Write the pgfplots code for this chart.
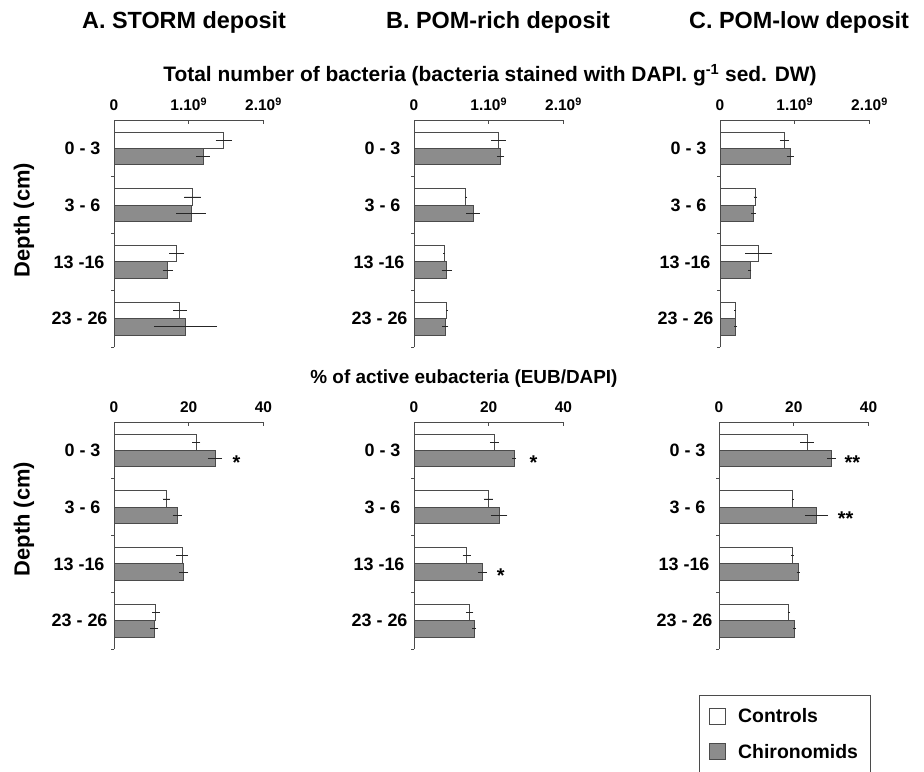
\documentclass[border=0pt]{standalone}
\usepackage{pgfplots}
\usepackage{pgfplotstable}
\pgfplotsset{compat=1.18}
\usepackage{fontspec}
\setmainfont{Liberation Sans}

\definecolor{barfill}{RGB}{140,140,140}
\definecolor{edge}{RGB}{75,75,75}

% y: 3 = 0-3 cm, 2 = 3-6, 1 = 13-16, 0 = 23-26
\pgfplotstableread{
y ctl    ectl    chi    echi
3 1.47e9 0.11e9  1.19e9 0.09e9
2 1.05e9 0.11e9  1.03e9 0.20e9
1 0.84e9 0.10e9  0.72e9 0.07e9
0 0.88e9 0.09e9  0.96e9 0.42e9
}\dataAtop
\pgfplotstableread{
y ctl    ectl    chi    echi
3 1.13e9 0.10e9  1.16e9 0.05e9
2 0.69e9 0.01e9  0.79e9 0.09e9
1 0.40e9 0.01e9  0.44e9 0.07e9
0 0.44e9 0.01e9  0.42e9 0.04e9
}\dataBtop
\pgfplotstableread{
y ctl    ectl    chi    echi
3 0.86e9 0.06e9  0.94e9 0.05e9
2 0.47e9 0.02e9  0.45e9 0.03e9
1 0.52e9 0.18e9  0.40e9 0.02e9
0 0.20e9 0.01e9  0.21e9 0.02e9
}\dataCtop
\pgfplotstableread{
y ctl  ectl chi  echi
3 22.0 1.1  27.0 1.9
2 14.0 1.0  16.9 1.2
1 18.2 1.6  18.7 1.2
0 11.2 1.0  10.8 1.1
}\dataAbot
\pgfplotstableread{
y ctl  ectl chi  echi
3 21.5 1.2  26.8 0.5
2 19.9 1.2  22.8 2.2
1 14.1 1.1  18.3 1.2
0 14.9 1.0  16.1 0.5
}\dataBbot
\pgfplotstableread{
y ctl  ectl chi  echi
3 23.6 1.8  30.1 1.1
2 19.7 0.1  26.1 3.1
1 19.6 0.4  21.2 0.4
0 18.7 0.3  20.2 0.4
}\dataCbot

\pgfplotsset{
  panel/.style={
    scale only axis, width=149.5bp, height=227bp,
    xbar, bar width=16.3bp,
    ymin=-0.5, ymax=3.5, xmin=0,
    axis x line*=top, axis y line*=left,
    axis line style={edge, line width=0.8bp},
    ytick={0,1,2,3},
    yticklabels={23 - 26,13 -16\kern3bp,3 - 6\kern7bp,0 - 3\kern7bp},
    minor ytick={-0.5,0.5,1.5,2.5},
    major y tick style={draw=none},
    tick align=inside,
    major tick length=4bp, minor tick length=3bp,
    minor y tick style={xshift=-3bp, edge, line width=0.8bp},
    major x tick style={edge, line width=0.8bp},
    scaled x ticks=false,
    xticklabel shift=6bp,
    xticklabel style={font=\bfseries\fontsize{15.5}{15.5}\selectfont},
    yticklabel style={font=\bfseries\fontsize{18}{18}\selectfont, xshift=-3bp},
    clip=false,
  },
  errs/.style={error bars/.cd, x dir=both, x explicit, error mark=none,
    error bar style={line width=0.9bp, black!85}, /pgfplots/.cd},
  ctl/.style={fill=white, draw=edge, line width=0.8bp, bar shift=8.15bp, errs},
  chi/.style={fill=barfill, draw=edge, line width=0.8bp, bar shift=-8.15bp, errs},
  toprow/.style={panel, xmax=2e9, xtick={0,1e9,2e9},
    xticklabels={0,1.10\textsuperscript{9},2.10\textsuperscript{9}}},
  botrow/.style={panel, xmax=40, xtick={0,20,40}, xticklabels={0,20,40}},
}

\begin{document}
\begin{tikzpicture}
\path[use as bounding box] (0bp,0bp) rectangle (924bp,-772bp);

% column titles
\node[font=\bfseries\fontsize{23.5}{23.5}\selectfont] at (184bp,-22bp) {A. STORM deposit};
\node[font=\bfseries\fontsize{23.5}{23.5}\selectfont] at (498bp,-22bp) {B. POM-rich deposit};
\node[font=\bfseries\fontsize{23.5}{23.5}\selectfont] at (799bp,-22bp) {C. POM-low deposit};
\node[font=\bfseries\fontsize{21}{21}\selectfont] at (490bp,-75bp)
  {Total number of bacteria (bacteria stained with DAPI. g\textsuperscript{-1} sed. DW)};
\node[font=\bfseries\fontsize{19}{19}\selectfont] at (464bp,-379bp)
  {\% of active eubacteria (EUB/DAPI)};
\node[font=\bfseries\fontsize{22}{22}\selectfont, rotate=90] at (24bp,-220bp) {Depth (cm)};
\node[font=\bfseries\fontsize{22}{22}\selectfont, rotate=90] at (24bp,-519bp) {Depth (cm)};

% top row
\begin{axis}[toprow, at={(114bp,-120bp)}, anchor=north west]
\addplot[ctl] table[x=ctl, y=y, x error=ectl] {\dataAtop};
\addplot[chi] table[x=chi, y=y, x error=echi] {\dataAtop};
\end{axis}
\begin{axis}[toprow, at={(414bp,-120bp)}, anchor=north west]
\addplot[ctl] table[x=ctl, y=y, x error=ectl] {\dataBtop};
\addplot[chi] table[x=chi, y=y, x error=echi] {\dataBtop};
\end{axis}
\begin{axis}[toprow, at={(720bp,-120bp)}, anchor=north west]
\addplot[ctl] table[x=ctl, y=y, x error=ectl] {\dataCtop};
\addplot[chi] table[x=chi, y=y, x error=echi] {\dataCtop};
\end{axis}

% bottom row
\begin{axis}[botrow, at={(114bp,-422bp)}, anchor=north west]
\addplot[ctl] table[x=ctl, y=y, x error=ectl] {\dataAbot};
\addplot[chi] table[x=chi, y=y, x error=echi] {\dataAbot};
\node[font=\bfseries\fontsize{20}{20}\selectfont, yshift=-12bp] at (axis cs:32.8,3) {*};
\end{axis}
\begin{axis}[botrow, at={(414bp,-422bp)}, anchor=north west]
\addplot[ctl] table[x=ctl, y=y, x error=ectl] {\dataBbot};
\addplot[chi] table[x=chi, y=y, x error=echi] {\dataBbot};
\node[font=\bfseries\fontsize{20}{20}\selectfont, yshift=-12bp] at (axis cs:32,3) {*};
\node[font=\bfseries\fontsize{20}{20}\selectfont, yshift=-12bp] at (axis cs:23.2,1) {*};
\end{axis}
\begin{axis}[botrow, at={(719bp,-422bp)}, anchor=north west,
  legend style={at={(axis description cs:-0.134,-0.2026)}, anchor=north west,
    draw=edge, line width=0.8bp, font=\bfseries\fontsize{19.5}{19.5}\selectfont,
    row sep=16bp, inner xsep=10bp, inner ysep=11bp,
    /tikz/every odd column/.append style={column sep=10bp}},
  legend cell align=left]
\addplot[ctl, legend image code/.code={\draw[fill=white, draw=edge, line width=0.8bp] (0bp,-8bp) rectangle (16bp,8bp);}]
  table[x=ctl, y=y, x error=ectl] {\dataCbot};
\addplot[chi, legend image code/.code={\draw[fill=barfill, draw=edge, line width=0.8bp] (0bp,-8bp) rectangle (16bp,8bp);}]
  table[x=chi, y=y, x error=echi] {\dataCbot};
\node[font=\bfseries\fontsize{20}{20}\selectfont, yshift=-12bp] at (axis cs:35.7,3) {**};
\node[font=\bfseries\fontsize{20}{20}\selectfont, yshift=-12bp] at (axis cs:33.9,2) {**};
\legend{Controls, Chironomids}
\end{axis}
\end{tikzpicture}
\end{document}
